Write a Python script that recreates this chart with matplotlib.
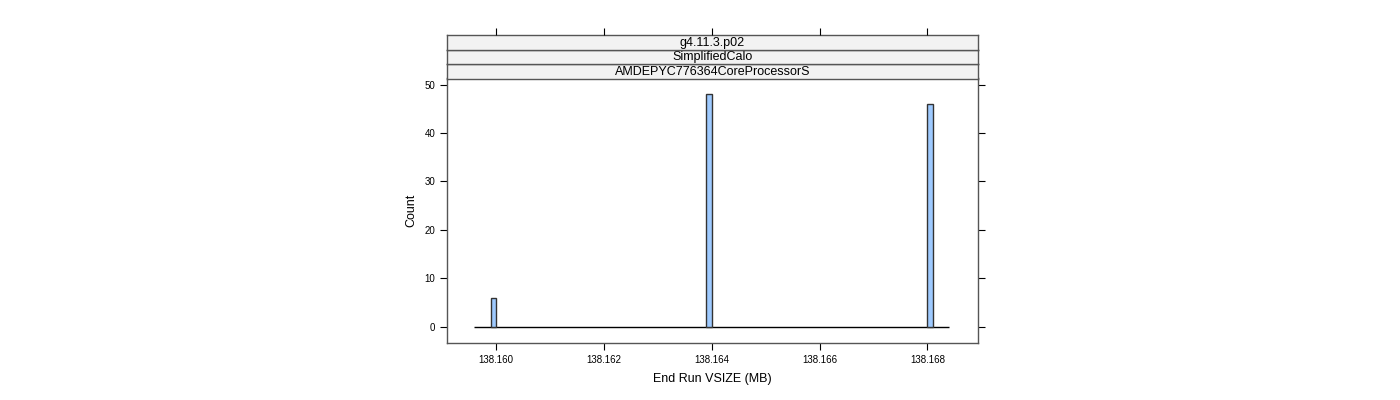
import numpy as np
import matplotlib.pyplot as plt

# histogram data
bin_lefts = [138.1599, 138.1639, 138.1680]
counts = [6, 48, 46]
bin_width = 0.0001
hist_range = [138.1596, 138.1684]
strip_labels = ['g4.11.3.p02', 'SimplifiedCalo', 'AMDEPYC776364CoreProcessorS']
x_ticks = [138.160, 138.162, 138.164, 138.166, 138.168]
y_ticks = [0, 10, 20, 30, 40, 50]

plt.rcParams['font.family'] = ['Liberation Sans', 'DejaVu Sans']

fig = plt.figure(figsize=(14, 4), dpi=100)
ax = fig.add_axes([447 / 1400, 1 - 343 / 400, 531 / 1400, 265 / 400])

ax.hlines(0, hist_range[0], hist_range[1], color='black', lw=1)
ax.bar(bin_lefts, counts, width=bin_width, align='edge',
       color='#9ECAFF', edgecolor='#333333', linewidth=1, zorder=3)

ax.set_xlim(138.15909, 138.16894)
ax.set_ylim(-3.36, 51.36)
ax.set_xticks(x_ticks)
ax.set_xticklabels(['%.3f' % v for v in x_ticks])
ax.set_yticks(y_ticks)
ax.tick_params(direction='out', length=5, width=0.8, labelsize=7, colors='black',
               top=True, right=True, labeltop=False, labelright=False)
for s in ax.spines.values():
    s.set_color('#555555')
    s.set_linewidth(1)
ax.set_xlabel('End Run VSIZE (MB)', fontsize=9, labelpad=6)
ax.set_ylabel('Count', fontsize=9, labelpad=5)
# top ticks sit above the strips
ax.xaxis.set_tick_params(which='both', top=False)

# strips
strip_h = 14.5 / 400
y0 = 1 - 78.5 / 400
for i, lab in enumerate(reversed(strip_labels)):
    sax = fig.add_axes([447 / 1400, y0 + i * strip_h, 531 / 1400, strip_h])
    sax.set_facecolor('#F2F2F2')
    sax.set_xticks([])
    sax.set_yticks([])
    for s in sax.spines.values():
        s.set_color('#555555')
        s.set_linewidth(1)
    sax.text(0.5, 0.45, lab, ha='center', va='center', fontsize=9,
             transform=sax.transAxes)

# top tick marks above the strip stack
tax = fig.add_axes([447 / 1400, y0, 531 / 1400, 3 * strip_h])
tax.patch.set_visible(False)
for s in tax.spines.values():
    s.set_visible(False)
tax.set_xlim(ax.get_xlim())
tax.set_xticks(x_ticks)
tax.set_yticks([])
tax.tick_params(axis='x', direction='out', length=5, width=0.8, bottom=False,
                labelbottom=False, top=True, labeltop=False)

fig.savefig('out.png', dpi=100)
